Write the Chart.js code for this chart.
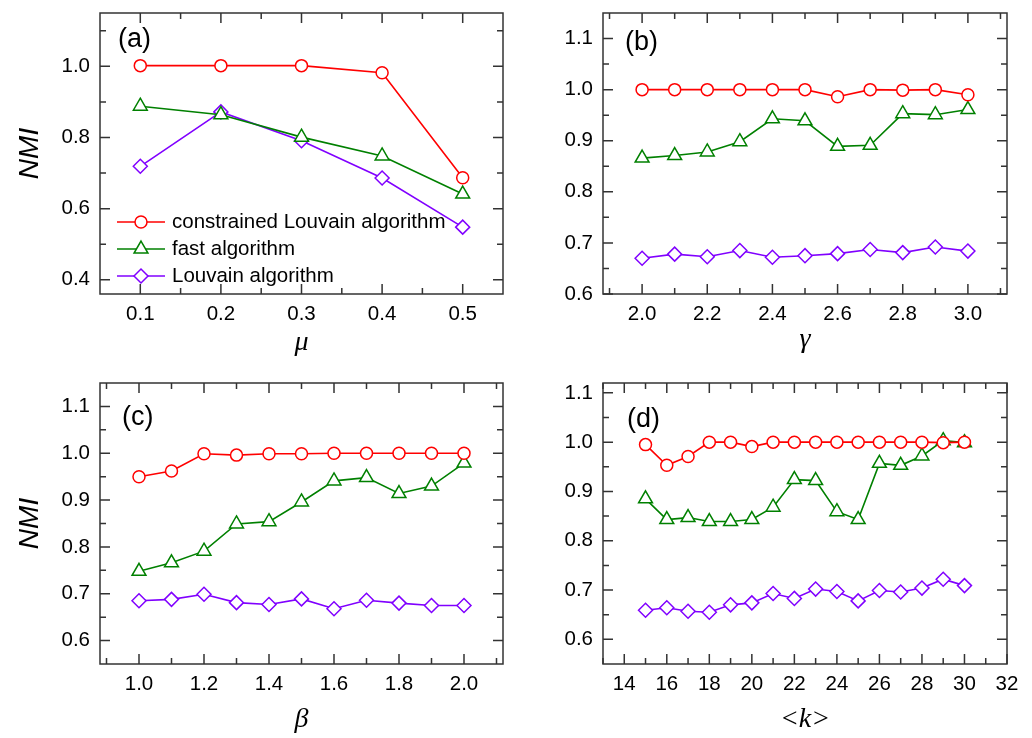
<!DOCTYPE html>
<html><head><meta charset="utf-8">
<script src="https://cdn.jsdelivr.net/npm/chart.js@4.4.1/dist/chart.umd.min.js"></script>
<style>
html,body{margin:0;padding:0;background:#fff;}
#wrap{position:relative;width:1032px;height:738px;overflow:hidden;}
canvas{position:absolute;}
</style></head><body>
<div id="wrap">
<canvas id="ca" width="516" height="369" style="left:0;top:0"></canvas>
<canvas id="cb" width="516" height="369" style="left:516px;top:0"></canvas>
<canvas id="cc" width="516" height="369" style="left:0;top:369px"></canvas>
<canvas id="cd" width="516" height="369" style="left:516px;top:369px"></canvas>
</div>
<script>
// ---------- data ----------
const seriesNames = ['constrained Louvain algorithm', 'fast algorithm', 'Louvain algorithm'];
const seriesColors = ['#ff0000', '#008000', '#8000ff'];

const muX    = [0.1, 0.2, 0.3, 0.4, 0.5];
const muCL   = [1.002, 1.002, 1.002, 0.982, 0.687];
const muFast = [0.888, 0.864, 0.801, 0.748, 0.641];
const muLouv = [0.719, 0.872, 0.791, 0.686, 0.548];

const gammaX    = [2.0, 2.1, 2.2, 2.3, 2.4, 2.5, 2.6, 2.7, 2.8, 2.9, 3.0];
const gammaCL   = [1.0, 1.0, 1.0, 1.0, 1.0, 1.0, 0.986, 1.0, 0.999, 1.0, 0.990];
const gammaFast = [0.866, 0.871, 0.878, 0.898, 0.943, 0.939, 0.889, 0.891, 0.953, 0.951, 0.961];
const gammaLouv = [0.670, 0.678, 0.673, 0.685, 0.672, 0.675, 0.679, 0.687, 0.681, 0.692, 0.684];

const betaX    = [1.0, 1.1, 1.2, 1.3, 1.4, 1.5, 1.6, 1.7, 1.8, 1.9, 2.0];
const betaCL   = [0.950, 0.962, 0.999, 0.996, 0.999, 0.999, 1.0, 1.0, 1.0, 1.0, 1.0];
const betaFast = [0.748, 0.766, 0.791, 0.849, 0.854, 0.896, 0.941, 0.948, 0.914, 0.930, 0.979];
const betaLouv = [0.685, 0.688, 0.699, 0.681, 0.677, 0.689, 0.668, 0.686, 0.680, 0.675, 0.675];

const kX    = [15, 16, 17, 18, 19, 20, 21, 22, 23, 24, 25, 26, 27, 28, 29, 30];
const kCL   = [0.995, 0.953, 0.971, 1.0, 1.0, 0.991, 1.0, 1.0, 1.0, 1.0, 1.0, 1.0, 1.0, 1.0, 0.999, 1.0];
const kFast = [0.885, 0.843, 0.847, 0.839, 0.839, 0.843, 0.868, 0.924, 0.922, 0.859, 0.843, 0.957, 0.953, 0.972, 1.003, 0.999];
const kLouv = [0.659, 0.664, 0.657, 0.655, 0.670, 0.674, 0.693, 0.683, 0.702, 0.697, 0.678, 0.699, 0.696, 0.704, 0.722, 0.709];

// tick labels
const muTicks = [0.1, 0.2, 0.3, 0.4, 0.5];
const muMinor = [0.15, 0.25, 0.35, 0.45];
const nmiTicksA = [0.4, 0.6, 0.8, 1.0];
const nmiMinorA = [0.5, 0.7, 0.9, 1.1];
const gammaTicks = [2.0, 2.2, 2.4, 2.6, 2.8, 3.0];
const gammaMinor = [1.9, 2.1, 2.3, 2.5, 2.7, 2.9, 3.1];
const betaTicks = [1.0, 1.2, 1.4, 1.6, 1.8, 2.0];
const betaMinor = [0.9, 1.1, 1.3, 1.5, 1.7, 1.9, 2.1];
const kTicks = [14, 16, 18, 20, 22, 24, 26, 28, 30, 32];
const kMinor = [13, 15, 17, 19, 21, 23, 25, 27, 29, 31];
const nmiTicks = [0.6, 0.7, 0.8, 0.9, 1.0, 1.1];
const nmiMinor = [0.65, 0.75, 0.85, 0.95, 1.05];

// ---------- styling ----------
const SANS = '"Liberation Sans", Arial, sans-serif';
const SERIF = '"Liberation Serif", "Times New Roman", serif';
Chart.defaults.font.family = SANS;
Chart.defaults.color = '#000';

const markerStyles = [
  {pointStyle: 'circle', pointRadius: 6},
  {pointStyle: 'triangle', pointRadius: 8},
  {pointStyle: 'rectRot', pointRadius: 7}
];

function makeDatasets(xs, ys) {
  return ys.map((arr, i) => ({
    label: seriesNames[i],
    data: xs.map((x, j) => ({x: x, y: arr[j]})),
    showLine: true,
    borderColor: seriesColors[i],
    backgroundColor: '#ffffff',
    pointBorderColor: seriesColors[i],
    pointBackgroundColor: '#ffffff',
    borderWidth: 1.6,
    pointBorderWidth: 1.5,
    pointStyle: markerStyles[i].pointStyle,
    pointRadius: markerStyles[i].pointRadius,
    pointHoverRadius: markerStyles[i].pointRadius,
    clip: false
  }));
}

const framePlugin = {
  id: 'frame',
  afterDatasetsDraw(chart, args, o) {
    const {ctx, chartArea: ca, scales: {x, y}} = chart;
    ctx.save();
    ctx.strokeStyle = '#333';
    ctx.lineWidth = 1.5;
    ctx.beginPath();
    const major = 10, minor = 6;
    const xt = (vals, len) => vals.forEach(v => {
      const p = x.getPixelForValue(v);
      if (p < ca.left - 0.5 || p > ca.right + 0.5) return;
      ctx.moveTo(p, ca.bottom); ctx.lineTo(p, ca.bottom - len);
      ctx.moveTo(p, ca.top); ctx.lineTo(p, ca.top + len);
    });
    const yt = (vals, len) => vals.forEach(v => {
      const p = y.getPixelForValue(v);
      if (p < ca.top - 0.5 || p > ca.bottom + 0.5) return;
      ctx.moveTo(ca.left, p); ctx.lineTo(ca.left + len, p);
      ctx.moveTo(ca.right, p); ctx.lineTo(ca.right - len, p);
    });
    xt(o.xMajor, major); xt(o.xMinor, minor);
    yt(o.yMajor, major); yt(o.yMinor, minor);
    ctx.stroke();
    ctx.strokeRect(ca.left, ca.top, ca.right - ca.left, ca.bottom - ca.top);
    // panel letter
    ctx.fillStyle = '#000';
    ctx.font = '27px ' + SANS;
    ctx.textBaseline = 'middle';
    ctx.textAlign = 'left';
    ctx.fillText(o.letter, ca.left + o.lx, ca.top + o.ly);
    // inner legend
    if (o.legend) {
      const L = o.legend;
      ctx.font = '20.5px ' + SANS;
      chart.data.datasets.forEach((ds, i) => {
        const yy = ca.top + L.y0 + i * L.dy;
        const x0 = ca.left + L.x0;
        ctx.strokeStyle = ds.borderColor;
        ctx.lineWidth = ds.borderWidth;
        ctx.beginPath();
        ctx.moveTo(x0, yy); ctx.lineTo(x0 + L.len, yy);
        ctx.stroke();
        ctx.fillStyle = '#ffffff';
        ctx.lineWidth = ds.pointBorderWidth;
        Chart.helpers.drawPoint(ctx, {pointStyle: ds.pointStyle, radius: ds.pointRadius, borderWidth: ds.pointBorderWidth, rotation: 0}, x0 + L.len / 2, yy);
        ctx.fillStyle = '#000';
        ctx.fillText(ds.label, ca.left + L.tx, yy);
      });
    }
    ctx.restore();
  }
};

function makeChart(id, cfg) {
  return new Chart(document.getElementById(id), {
    type: 'scatter',
    data: {datasets: makeDatasets(cfg.xs, cfg.ys)},
    plugins: [framePlugin],
    options: {
      responsive: false,
      animation: false,
      events: [],
      layout: {padding: {top: cfg.padTop, right: cfg.padRight, left: 0, bottom: 0}},
      plugins: {
        legend: {display: false},
        tooltip: {enabled: false},
        frame: {
          xMajor: cfg.xTicks, xMinor: cfg.xMinor, yMajor: cfg.yAllMajor, yMinor: cfg.yMinor,
          letter: cfg.letter, lx: cfg.lx, ly: cfg.ly, legend: cfg.legend
        }
      },
      scales: {
        x: {
          type: 'linear', min: cfg.xMin, max: cfg.xMax,
          grid: {display: false, drawTicks: false},
          border: {display: false},
          afterBuildTicks: s => { s.ticks = cfg.xTicks.map(v => ({value: v})); },
          afterFit: s => { s.height = cfg.xAxisH; s.paddingLeft = 0; s.paddingRight = 0; },
          ticks: {padding: 8, font: {size: 20.5}, color: '#000', maxRotation: 0, autoSkip: false,
                  callback: v => cfg.xFmt(v)},
          title: {display: true, text: cfg.xTitle, color: '#000',
                  font: {family: SERIF, style: 'italic', size: 28, lineHeight: 1},
                  padding: {top: 0, bottom: cfg.xTitlePad}}
        },
        y: {
          type: 'linear', min: cfg.yMin, max: cfg.yMax,
          grid: {display: false, drawTicks: false},
          border: {display: false},
          afterBuildTicks: s => { s.ticks = cfg.yTicks.map(v => ({value: v})); },
          afterFit: s => { s.width = cfg.yAxisW; s.paddingTop = 0; s.paddingBottom = 0; },
          ticks: {padding: 10, font: {size: 20.5}, color: '#000', autoSkip: false,
                  callback: v => v.toFixed(1)},
          title: {display: !!cfg.yTitle, text: cfg.yTitle || '', color: '#000',
                  font: {family: SANS, style: 'italic', size: 28, lineHeight: 1},
                  padding: {top: 16, bottom: 0}}
        }
      }
    }
  });
}

makeChart('ca', {
  xs: muX, ys: [muCL, muFast, muLouv],
  xMin: 0.05, xMax: 0.55, yMin: 0.36, yMax: 1.15,
  xTicks: muTicks, xMinor: muMinor, yTicks: nmiTicksA, yAllMajor: nmiTicksA, yMinor: nmiMinorA,
  xFmt: v => v.toFixed(1), xTitle: 'μ', yTitle: 'NMI',
  padTop: 13, padRight: 13, yAxisW: 100, xAxisH: 75, xTitlePad: 12,
  letter: '(a)', lx: 18, ly: 27,
  legend: {x0: 17, y0: 209, dy: 27, len: 48, tx: 72}
});
makeChart('cb', {
  xs: gammaX, ys: [gammaCL, gammaFast, gammaLouv],
  xMin: 1.88, xMax: 3.12, yMin: 0.6, yMax: 1.15,
  xTicks: gammaTicks, xMinor: gammaMinor, yTicks: nmiTicks, yAllMajor: nmiTicks, yMinor: nmiMinor,
  xFmt: v => v.toFixed(1), xTitle: 'γ', yTitle: '',
  padTop: 13, padRight: 25, yAxisW: 87, xAxisH: 75, xTitlePad: 15,
  letter: '(b)', lx: 22, ly: 30
});
makeChart('cc', {
  xs: betaX, ys: [betaCL, betaFast, betaLouv],
  xMin: 0.88, xMax: 2.12, yMin: 0.55, yMax: 1.15,
  xTicks: betaTicks, xMinor: betaMinor, yTicks: nmiTicks, yAllMajor: nmiTicks, yMinor: nmiMinor,
  xFmt: v => v.toFixed(1), xTitle: 'β', yTitle: 'NMI',
  padTop: 14, padRight: 13, yAxisW: 100, xAxisH: 74, xTitlePad: 4,
  letter: '(c)', lx: 22, ly: 35
});
makeChart('cd', {
  xs: kX, ys: [kCL, kFast, kLouv],
  xMin: 13, xMax: 32, yMin: 0.55, yMax: 1.12,
  xTicks: kTicks, xMinor: kMinor, yTicks: nmiTicks, yAllMajor: nmiTicks, yMinor: nmiMinor,
  xFmt: v => String(Math.round(v)), xTitle: '<k>', yTitle: '',
  padTop: 14, padRight: 25, yAxisW: 87, xAxisH: 74, xTitlePad: 4,
  letter: '(d)', lx: 24, ly: 37
});
</script>
</body></html>
